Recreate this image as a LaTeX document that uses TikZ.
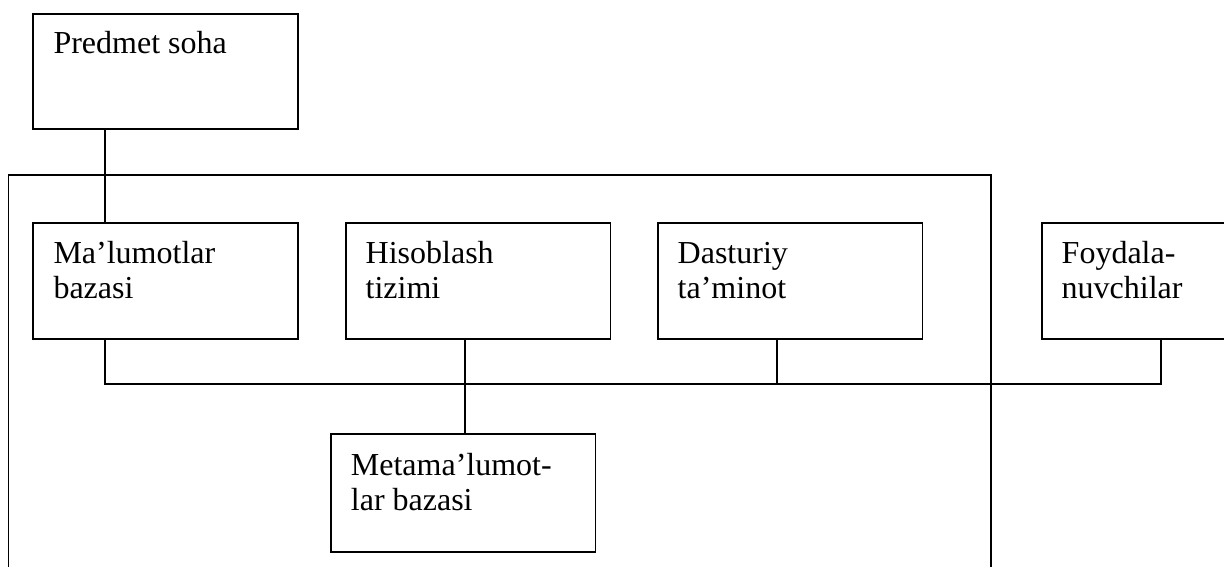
\documentclass[tikz,border=0pt]{standalone}
\usepackage{fontspec}
\setmainfont{Liberation Serif}
\usetikzlibrary{calc}

\tikzset{
  unitbox/.style={draw, line width=1.8pt, rectangle, inner sep=0pt,
    minimum width=264.5pt, minimum height=116pt, anchor=north west},
  label/.style={anchor=base west, inner sep=0pt,
    font=\fontsize{32}{35}\selectfont},
  frame/.style={draw, line width=1.4pt},
  link/.style={draw, line width=1.8pt},
}
\newcommand{\boxtext}[1]{\parbox[t]{250pt}{\raggedright #1}}

\begin{document}
\begin{tikzpicture}[x=1pt, y=-1pt]
  \useasboundingbox (0,0) rectangle (1224,566);
  \clip (0,0) rectangle (1224,566);

  % outer system frame, open at the bottom
  \coordinate (frameBL) at (8.5,600);
  \coordinate (frameTL) at (8.5,175);
  \coordinate (frameTR) at (991,175);
  \coordinate (frameBR) at (991,600);
  \draw[frame] (frameBL) -- (frameTL) -- (frameTR) -- (frameBR);

  % boxes
  \node[unitbox, minimum height=115.6pt] (ps) at (32.3,12.7) {};
  \node[unitbox] (mb) at (32.3,221.7) {};
  \node[unitbox] (hs) at (345,221.7) {};
  \node[unitbox] (dt) at (657,221.7) {};
  \node[unitbox] (fy) at (1041,221.7) {};
  \node[unitbox, minimum height=117.4pt] (mm) at (330,433.3) {};

  % labels
  \node[label] (psl) at ($(ps.north west)+(21,41)$) {\boxtext{Predmet soha}};
  \node[label] (mbl) at ($(mb.north west)+(21,41.3)$) {\boxtext{Ma’lumotlar\\bazasi}};
  \node[label] (hsl) at ($(hs.north west)+(20.5,41.3)$) {\boxtext{Hisoblash\\tizimi}};
  \node[label] (dtl) at ($(dt.north west)+(20.5,41.3)$) {\boxtext{Dasturiy\\ta’minot}};
  \node[label] (fyl) at ($(fy.north west)+(20.5,41.3)$) {\boxtext{Foydala-\\nuvchilar}};
  \node[label] (mml) at ($(mm.north west)+(20.7,41.7)$) {\boxtext{Metama’lumot-\\lar bazasi}};

  % bus line
  \coordinate (busL) at (105,384.3);
  \coordinate (busR) at (1161,384.3);

  % connectors
  \draw[link] ([xshift=72.7pt]ps.south west) -- ([xshift=72.7pt]mb.north west);
  \draw[link] ([xshift=72.7pt]mb.south west) -- (busL) -- (busR)
              -- ([xshift=120pt]fy.south west);
  \draw[link] ([xshift=120pt]hs.south west) -- ([xshift=135pt]mm.north west);
  \draw[link] ([xshift=119.7pt]dt.south west) -- ([xshift=119.7pt]dt.south west |- busL);
\end{tikzpicture}
\end{document}
